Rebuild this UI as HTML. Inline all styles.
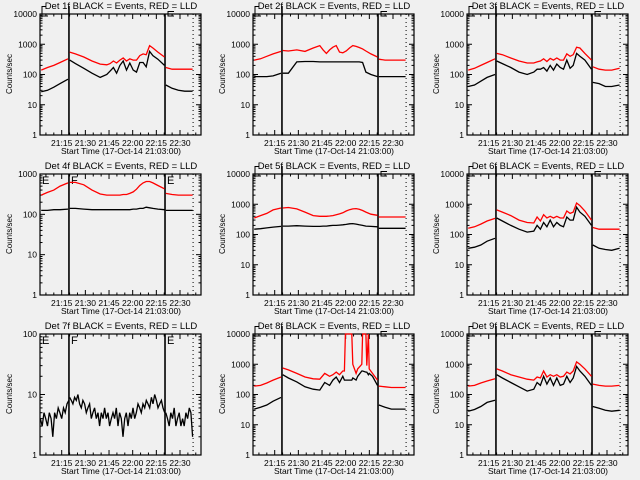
<!DOCTYPE html>
<html><head><meta charset="utf-8"><style>
html,body{margin:0;padding:0;background:#f0f0f0;}
svg{display:block;font-family:"Liberation Sans",sans-serif;}
</style></head><body>
<svg id="chart" width="640" height="480" viewBox="0 0 640 480"></svg>
<script>
// ---- shared categories (minutes after 21:00) ----
const seg1Times = [2, 6, 10, 14, 19];
const seg2Times = [20.1,23.7,29,34.2,39.4,43.6,45.7,47.8,49.8,51.9,54,56.1,58.2,60.3,62.4,64.5,66.6,68.6,70.7,72.8,76,80.2];
const seg3Times = [81, 85, 89, 93, 98];
const p8Seg2Times = [20.1,23.7,29,34.2,39.4,43.6,46.7,49.8,51.9,54,56.1,58.2,59.2,59.8,63.9,64.5,66.6,67.6,70.2,70.7,72.8,73.4,74.4,74.9,77,80.2];
const xTickLabels = ["21:15","21:30","21:45","22:00","22:15","22:30"];
const xTickTimes = [15,30,45,60,75,90];
const detNames = ["1f","2f","3f","4f","5f","6f","7f","8f","9f"];
const yMaxes = [10000,10000,10000,1000,10000,10000,100,10000,10000];

// ---- series values ----
const p1Black1=[27,30,38,50,70], p1Red1=[140,170,200,250,330];
const p1Black2=[300,230,160,110,80,100,130,170,110,200,280,140,240,140,120,250,250,180,580,420,320,200];
const p1Red2=[550,480,380,280,220,210,230,280,240,300,350,280,330,300,300,420,480,450,900,750,550,380];
const p1Black3=[45,35,30,28,28], p1Red3=[170,150,150,150,150];

const p2Black1=[85,85,85,90,110], p2Red1=[300,330,400,480,580];
const p2Black2=[110,110,260,270,270,260,260,260,260,260,260,260,260,260,260,260,260,260,250,120,100,85];
const p2Red2=[620,600,650,580,750,900,650,500,650,800,900,550,520,600,750,900,850,780,700,600,480,380];
const p2Black3=[85,85,85,85,85], p2Red3=[320,300,300,300,300];

const p3Black1=[40,45,60,80,100], p3Red1=[140,160,200,250,330];
const p3Black2=[280,230,170,120,100,120,150,150,170,130,200,140,220,170,150,300,160,200,500,400,300,150];
const p3Red2=[500,450,350,280,240,240,260,280,330,270,340,300,350,300,300,480,400,450,800,750,500,300];
const p3Black3=[55,50,40,40,45], p3Red3=[180,150,140,140,160];

const p4Black1=[125,125,130,130,135], p4Red1=[300,350,400,500,600];
const p4Black2=[140,140,135,130,130,130,130,130,130,130,130,130,130,135,135,140,140,150,145,140,135,130];
const p4Red2=[620,620,540,400,320,300,300,300,300,300,310,310,330,360,420,520,600,650,650,600,520,430];
const p4Black3=[125,125,125,125,125], p4Red3=[330,310,300,300,300];

const p5Black1=[150,155,165,175,185], p5Red1=[350,420,500,650,750];
const p5Black2=[190,190,195,190,185,185,190,190,195,200,200,205,210,215,225,230,220,210,200,190,185,180];
const p5Red2=[750,780,700,550,420,400,400,400,410,420,450,480,520,600,660,700,720,680,620,550,470,430];
const p5Black3=[160,160,160,160,160], p5Red3=[380,380,380,380,380];

const p6Black1=[35,38,45,60,75], p6Red1=[160,180,220,280,340];
const p6Black2=[350,280,200,150,120,130,200,150,250,180,300,180,250,200,180,380,300,300,800,550,400,200];
const p6Red2=[650,550,420,300,250,240,380,280,450,350,400,350,400,350,350,600,500,550,1100,900,600,300];
const p6Black3=[45,35,32,30,35], p6Red3=[170,150,150,150,150];

const p7Black1=[4,3,5,4,3,5,4,2,5,4,6,5,4,6,5,7,8];
const p7Black2=[9,8,7,9,8,10,7,6,8,7,5,6,7,4,5,6,4,5,3,5,4,6,4,5,3,4,5,4,6,3,5,4,2,4,5,3,5,4,6,4,5,7,6,5,7,6,8,7,6,9,7,10,8,6,7,8,6,5];
const p7Black3=[5,4,3,5,4,6,3,4,5,3,4,3,5,4,6,5,2];

const p8Black1=[33,38,45,60,80], p8Red1=[190,200,240,300,380];
const p8Black2=[450,350,260,180,150,140,250,200,300,380,250,400,300,300,300,350,300,400,600,600,550,550,450,500,400,200];
const p8Red2=[750,650,500,380,330,320,500,400,450,550,450,600,600,20000,20000,1000,500,700,1000,20000,20000,900,20000,700,500,300];
const p8Black3=[45,38,33,33,33], p8Red3=[190,180,170,170,170];

const p9Black1=[28,32,40,55,65], p9Red1=[190,200,240,280,330];
const p9Black2=[450,350,250,180,130,150,250,200,400,220,350,200,350,200,220,400,250,350,850,600,400,200];
const p9Red2=[700,600,450,380,320,300,380,350,600,380,450,400,450,380,400,550,480,600,1200,1000,700,400];
const p9Black3=[40,35,30,28,30], p9Red3=[220,200,190,190,200];

const NS="http://www.w3.org/2000/svg";
const svg=document.getElementById('chart');
function mk(tag,attrs,parent){const e=document.createElementNS(NS,tag);for(const k in attrs)e.setAttribute(k,attrs[k]);(parent||svg).appendChild(e);return e;}

function timesFor(n,start,end){const a=[];for(let i=0;i<n;i++)a.push(start+i*(end-start)/(n-1));return a;}

const panels=[
 {b:[p1Black1,p1Black2,p1Black3],r:[p1Red1,p1Red2,p1Red3]},
 {b:[p2Black1,p2Black2,p2Black3],r:[p2Red1,p2Red2,p2Red3]},
 {b:[p3Black1,p3Black2,p3Black3],r:[p3Red1,p3Red2,p3Red3]},
 {b:[p4Black1,p4Black2,p4Black3],r:[p4Red1,p4Red2,p4Red3],letters:true},
 {b:[p5Black1,p5Black2,p5Black3],r:[p5Red1,p5Red2,p5Red3]},
 {b:[p6Black1,p6Black2,p6Black3],r:[p6Red1,p6Red2,p6Red3]},
 {b:[p7Black1,p7Black2,p7Black3],r:null,letters:true,
  bt:[timesFor(p7Black1.length,1.5,19.5),timesFor(p7Black2.length,20,80.3),timesFor(p7Black3.length,81,98)]},
 {b:[p8Black1,p8Black2,p8Black3],r:[p8Red1,p8Red2,p8Red3],t2:p8Seg2Times},
 {b:[p9Black1,p9Black2,p9Black3],r:[p9Red1,p9Red2,p9Red3]}
];

panels.forEach((P,idx)=>{
  const ox=[0,213,427][idx%3], oy=[0,160,320][Math.floor(idx/3)];
  const L=ox+40,R=ox+201,T=oy+14,B=oy+135;
  const ymin=1,ymax=yMaxes[idx];
  const g=mk('g',{});
  
  
  const xs=t=>ox+61.7+(t-15)*23.66/15;
  const ys=v=>{const c=Math.min(Math.max(v,ymin),ymax);return B-(Math.log10(c)-Math.log10(ymin))/(Math.log10(ymax)-Math.log10(ymin))*(B-T);};
  const ti=mk('text',{x:ox+121,y:oy+9,'text-anchor':'middle','font-size':'9.5'},g);
  ti.textContent='Det '+detNames[idx]+' BLACK = Events, RED = LLD';
  
  
  const yl=mk('text',{x:0,y:0,'text-anchor':'middle','font-size':'8',transform:`translate(${ox+12},${oy+74}) rotate(-90)`},g);
  yl.textContent='Counts/sec';
  
  
  const xl=mk('text',{x:ox+121,y:oy+154,'text-anchor':'middle','font-size':'8.5'},g);
  xl.textContent='Start Time (17-Oct-14 21:03:00)';
  
  
  const decs=Math.round(Math.log10(ymax));
  for(let d=0;d<=decs;d++){
    const v=Math.pow(10,d), y=ys(v);
    mk('line',{x1:L,x2:L+5,y1:y,y2:y,stroke:'#000'},g);
    mk('line',{x1:R,x2:R-5,y1:y,y2:y,stroke:'#000'},g);
    const tl=mk('text',{x:L-3,y:y+3,'text-anchor':'end','font-size':'8.5'},g);
    tl.textContent=String(v);
    
    
    if(d<decs)for(let m=2;m<=9;m++){const ym=ys(m*v);
      mk('line',{x1:L,x2:L+2.5,y1:ym,y2:ym,stroke:'#000'},g);
      mk('line',{x1:R,x2:R-2.5,y1:ym,y2:ym,stroke:'#000'},g);}
  }
  for(let t=5;t<=100;t+=5){const x=xs(t),maj=(t%15===0);
    mk('line',{x1:x,x2:x,y1:B,y2:B-(maj?5:2.5),stroke:'#000'},g);
    mk('line',{x1:x,x2:x,y1:T,y2:T+(maj?5:2.5),stroke:'#000'},g);}
  xTickTimes.forEach((t,i)=>{const xt=mk('text',{x:xs(t),y:oy+146,'text-anchor':'middle','font-size':'8.5'},g);
    xt.textContent=xTickLabels[i];
    
    });
  const bx=mk('rect',{x:L,y:T,width:R-L,height:B-T,fill:'none',stroke:'#000','stroke-width':'1.2'},g);
  
  
  const v1=mk('line',{x1:xs(19.6),x2:xs(19.6),y1:P.letters?T:oy+6,y2:B,stroke:'#000','stroke-width':'1.6'},g);
  
  
  const v2=mk('line',{x1:xs(80.5),x2:xs(80.5),y1:T,y2:B,stroke:'#000','stroke-width':'1.6'},g);
  
  
  const v3=mk('line',{x1:xs(98.3),x2:xs(98.3),y1:T,y2:B,stroke:'#000','stroke-dasharray':'1,3'},g);
  
  
  if(P.letters){
    [['E',L+2],['F',xs(19.6)+2],['E',xs(80.5)+2]].forEach(([s,x])=>{const lt=mk('text',{x:x,y:T+10,'font-size':'11'},g);lt.textContent=s;
      
      });
  } else {
    mk('polyline',{points:`${L+6},${oy+6.5} ${L+2},${oy+6.5} ${L+2},${oy+16} ${L+8},${oy+16}`,fill:'none',stroke:'#000'},g);
    const x2=xs(80.5)+3;
    mk('polyline',{points:`${x2+6},${oy+11.5} ${x2},${oy+11.5} ${x2},${oy+16} ${x2+6},${oy+16}`,fill:'none',stroke:'#000'},g);
  }
  const segT=[seg1Times,P.t2||seg2Times,seg3Times];
  const draw=(vals,times,color,name)=>{
    const pts=vals.map((v,i)=>xs(times[i]).toFixed(1)+','+ys(v).toFixed(1)).join(' ');
    const pl=mk('polyline',{points:pts,fill:'none',stroke:color,'stroke-width':'1.3'},g);
    
    
  };
  if(P.r)P.r.forEach((s,i)=>draw(s,segT[i],'#ff0000','lld-series-seg'+(i+1)));
  P.b.forEach((s,i)=>draw(s,P.bt?P.bt[i]:segT[i],'#000000','events-series-seg'+(i+1)));
});
</script>
</body></html>
